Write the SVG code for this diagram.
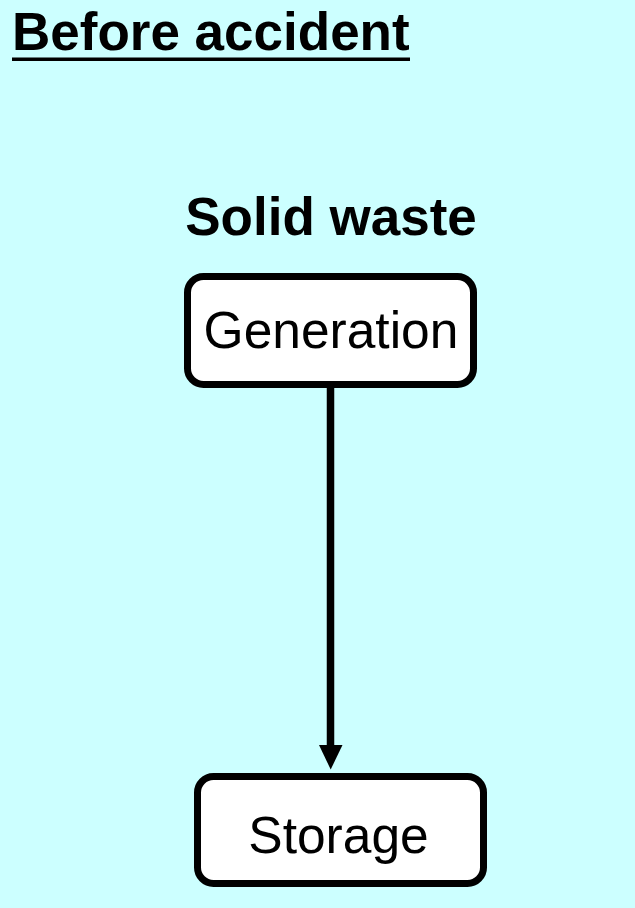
<svg xmlns="http://www.w3.org/2000/svg" width="635" height="908" viewBox="0 0 635 908">
<defs>
<style>
.bg{fill:#CCFFFF}
.box{fill:#FFFFFF;stroke:#000;stroke-width:7}
.lbl{font-family:"Liberation Sans",Arial,sans-serif;font-size:51.5px;fill:#000;text-anchor:middle}
.title{font-family:"Liberation Sans",Arial,sans-serif;font-size:53px;font-weight:bold;fill:#000}
.edge{stroke:#000;stroke-width:7.5;fill:none}
.head{fill:#000}
</style>
</defs>
<rect class="bg" x="0" y="0" width="635" height="908"/>
<g id="title">
<text class="title" x="12" y="50">Before accident</text>
<rect x="12" y="57.5" width="398" height="3.5" fill="#000"/>
</g>
<g id="heading">
<text class="title" x="331" y="235" text-anchor="middle">Solid waste</text>
</g>
<g id="connectors">
<line class="edge" x1="330.5" y1="388" x2="330.5" y2="747"/>
<polygon class="head" points="319,745 342.5,745 330.7,769.5"/>
</g>
<g id="generation">
<rect class="box" x="187.5" y="276.5" width="286" height="108" rx="16" ry="16"/>
<text class="lbl" x="331" y="348">Generation</text>
</g>
<g id="storage">
<rect class="box" x="197.5" y="776.5" width="286" height="107" rx="16" ry="16"/>
<text class="lbl" x="338.5" y="853">Storage</text>
</g>
</svg>
